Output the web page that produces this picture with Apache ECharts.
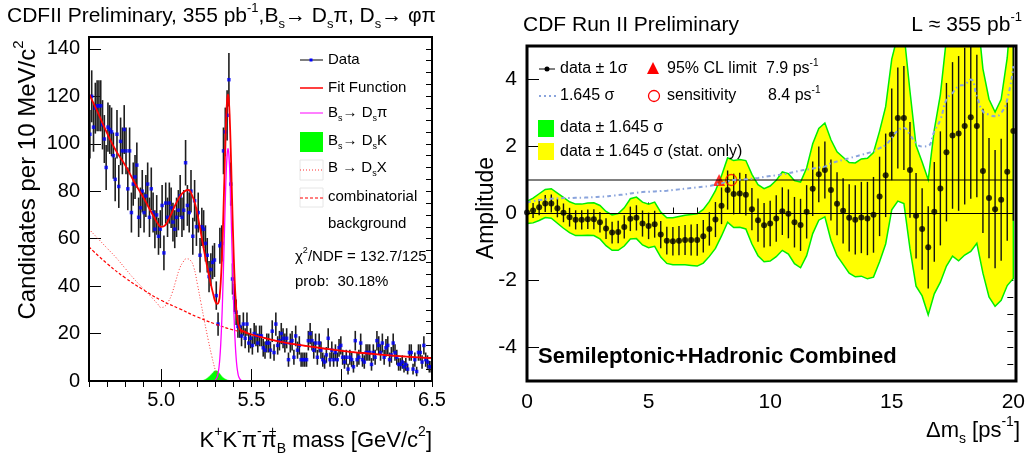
<!DOCTYPE html>
<html>
<head>
<meta charset="utf-8">
<script src="https://cdn.jsdelivr.net/npm/echarts@6/dist/echarts.min.js"></script>
<style>html,body{margin:0;padding:0;background:#fff;}#c{width:1028px;height:464px;}</style>
</head>
<body>
<div id="c"></div>
<script>
// ---------------- Left panel data ----------------
const massBinStart = 4.6;
const massBinWidth = 0.01;
const counts = [
104,120,107,115,116,116,116,108,102,90,
107,106,105,95,85,104,82,101,97,106,
97,81,97,71,83,86,91,69,73,80,
71,78,83,69,81,71,64,70,61,64,
74,54,75,69,75,73,67,64,69,72,
78,69,72,92,74,71,80,61,76,65,
71,53,65,64,58,53,44,47,50,51,
36,24,57,58,97,105,112,127,83,43,
35,29,23,23,19,24,18,24,16,18,
15,20,19,16,19,19,14,13,16,16,
13,21,12,24,15,17,20,18,16,18,
9,16,17,10,19,13,15,9,9,9,
9,17,20,17,13,16,10,16,13,9,
8,11,18,9,13,9,12,9,14,15,
10,8,10,5,10,9,6,17,9,10,
16,9,8,12,12,12,7,12,10,17,
15,12,16,10,14,15,9,11,16,12,
10,7,7,8,6,7,5,12,12,5,
9,4,12,12,8,15,9,8,6,6];
const fitCurve = [[4.60,121],[4.65,113],[4.70,104.5],[4.75,97],[4.80,91],[4.85,84],[4.90,77.5],[4.95,70.5],[4.98,66.5],[5.00,65],[5.02,65.5],[5.05,69.5],[5.08,74.5],[5.11,78.5],[5.13,80],[5.15,80.5],[5.17,78.5],[5.19,74],[5.21,66.5],[5.23,58],[5.25,50],[5.27,42.5],[5.29,36],[5.30,33.5],[5.31,32.5],[5.32,33.7],[5.325,36.8],[5.33,42],[5.335,49.4],[5.34,59.7],[5.345,72.3],[5.35,85.9],[5.355,99.6],[5.36,110.8],[5.365,118.2],[5.37,120.8],[5.375,117.8],[5.38,110],[5.385,98.2],[5.39,84],[5.395,70],[5.40,57],[5.405,46],[5.41,37.6],[5.415,31.4],[5.42,27.2],[5.43,23],[5.44,21.5],[5.46,20.8],[5.50,19.6],[5.60,17.6],[5.70,16],[5.80,14.8],[5.90,13.7],[6.00,12.7],[6.10,11.9],[6.20,11.2],[6.30,10.6],[6.40,10.1],[6.50,9.6]];
const dspiCurve = [[5.29,0.07],[5.30,0.4],[5.31,1.7],[5.315,3.2],[5.32,5.7],[5.325,9.8],[5.33,15.9],[5.335,24.2],[5.34,35],[5.345,48],[5.35,62],[5.355,76],[5.36,87.5],[5.365,95.2],[5.37,98],[5.375,95.2],[5.38,87.5],[5.385,76],[5.39,62],[5.395,48],[5.40,35],[5.405,24.2],[5.41,15.9],[5.415,9.8],[5.42,5.7],[5.425,3.2],[5.43,1.7],[5.44,0.4],[5.45,0.07]];
const dskCurve = [[5.22,0],[5.24,0.5],[5.26,1.5],[5.28,3],[5.29,3.8],[5.30,4.3],[5.31,4.2],[5.32,3.5],[5.33,2.5],[5.34,1.6],[5.36,0.6],[5.38,0.15],[5.39,0]];
const dsxCurve = [[4.60,64],[4.65,60],[4.70,56],[4.75,52],[4.80,47.5],[4.85,43],[4.90,39],[4.95,35],[4.98,32.5],[5.00,31],[5.02,31.5],[5.04,33.5],[5.06,37],[5.08,42],[5.10,47],[5.12,50],[5.14,51.5],[5.16,51],[5.18,48],[5.20,41],[5.22,33],[5.24,25],[5.26,17.5],[5.28,10.5],[5.30,4.5],[5.31,2.5],[5.32,1],[5.33,0.3],[5.34,0]];
const combCurve = [[4.60,56.5],[4.70,49.5],[4.80,43.5],[4.90,38.5],[5.00,34],[5.10,30.5],[5.20,27],[5.30,24],[5.40,21.5],[5.50,19.6],[5.60,17.6],[5.70,16],[5.80,14.8],[5.90,13.7],[6.00,12.7],[6.10,11.9],[6.20,11.2],[6.30,10.6],[6.40,10.1],[6.50,9.6]];
const leftXTicks = [5.0,5.5,6.0,6.5];
const leftYTicks = [0,20,40,60,80,100,120,140];

// ---------------- Right panel data ----------------
const dmStep = 0.25;
const amplitude = [
0.03,0.09,0.19,0.30,0.30,0.16,0.02,-0.11,-0.19,-0.19,
-0.17,-0.17,-0.26,-0.45,-0.57,-0.55,-0.40,-0.16,-0.13,-0.30,
-0.37,-0.32,-0.63,-0.81,-0.83,-0.81,-0.79,-0.79,-0.79,-0.68,
-0.46,-0.18,0.23,0.70,0.58,0.60,0.56,0.13,-0.20,-0.35,
-0.30,-0.15,0.07,-0.01,-0.26,-0.34,0.05,0.74,1.17,1.30,
0.70,0.29,0.08,-0.13,-0.19,-0.12,-0.15,-0.04,0.51,1.14,
2.36,2.85,2.85,1.30,-0.07,-0.46,-1.01,0.05,0.75,1.83,
2.33,2.39,2.61,2.87,2.61,1.27,0.46,0.13,0.41,1.25,
2.46];
const sigma1645 = [
0.33,0.37,0.40,0.42,0.44,0.45,0.46,0.46,0.47,0.47,
0.48,0.49,0.50,0.51,0.53,0.55,0.57,0.60,0.62,0.64,
0.65,0.66,0.67,0.68,0.70,0.72,0.74,0.76,0.78,0.80,
0.82,0.86,0.90,0.96,1.00,1.01,1.02,1.04,1.06,1.09,
1.12,1.14,1.17,1.20,1.24,1.28,1.31,1.34,1.37,1.40,
1.50,1.55,1.60,1.65,1.70,1.75,1.80,1.86,1.95,2.05,
2.25,2.48,2.55,2.35,2.10,2.00,2.02,2.45,2.80,3.40,
3.60,3.80,3.85,4.00,3.50,3.05,2.95,2.90,3.00,3.40,
4.40];
const clLimit = [7.9, 1];
const sensitivity = [8.4, 1];
const rightYTicks = [-4,-2,0,2,4];

// ---------------- derived ----------------
const massPts = counts.map((n,i)=>[massBinStart + massBinWidth*(i+0.5), n, Math.sqrt(n)]);
const dm = amplitude.map((_,i)=>i*dmStep);
const ampPts = amplitude.map((a,i)=>[dm[i], a, sigma1645[i]/1.645]);
const sensLine = sigma1645.map((s,i)=>[dm[i], s]);

const FF = "'Liberation Sans', Arial, Helvetica, sans-serif";

function errRender(color, lw, clamp0){
  return function(params, api){
    const x = api.value(0), y = api.value(1), e = api.value(2);
    let lo = y - e; if (clamp0) lo = Math.max(0, lo);
    const p1 = api.coord([x, lo]), p2 = api.coord([x, y + e]);
    return {type:'line', shape:{x1:p1[0], y1:p1[1], x2:p2[0], y2:p2[1]}, style:{stroke:color, lineWidth:lw}};
  };
}

function richStyles(size, weight){
  const s = Math.round(size*0.62);
  return {
    sub:{fontSize:s, lineHeight:s, verticalAlign:'bottom', fontFamily:FF, fill:'#000', fontWeight:weight||'normal'},
    sup:{fontSize:s, lineHeight:s, verticalAlign:'top', fontFamily:FF, fill:'#000', fontWeight:weight||'normal'},
    supz:{fontSize:s, lineHeight:s, verticalAlign:'top', fontFamily:FF, fill:'#000', width:0}
  };
}
function txt(x, y, text, size, align, extra){
  extra = extra || {};
  return Object.assign({
    type:'text', x:x, y:y, z:120,
    style:{text:text, fontSize:size, fontFamily:FF, fill:'#000', align:align||'left', verticalAlign:'middle',
           lineHeight:Math.round(size*1.4), fontWeight:extra.weight||'normal', rich:richStyles(size, extra.weight)}
  }, extra.el || {});
}
function ln(x1,y1,x2,y2,color,lw,dash){
  return {type:'line', z:120, shape:{x1,y1,x2,y2}, style:{stroke:color, lineWidth:lw, lineDash:dash||null}};
}

const graphics = [
  // frames
  {type:'rect', z:110, shape:{x:89,y:37,width:343,height:344}, style:{fill:'none', stroke:'#000', lineWidth:2}},
  {type:'rect', z:110, shape:{x:527,y:46,width:489,height:335}, style:{fill:'none', stroke:'#000', lineWidth:3}},
  // titles
  txt(7, 16, 'CDFII Preliminary, 355 pb{sup|-1},B{sub|s}→ D{sub|s}π, D{sub|s}→ φπ', 21),
  txt(523, 25, 'CDF Run II Preliminary', 21),
  txt(1022, 25, 'L ≈ 355 pb{sup|-1}', 21, 'right'),
  // axis titles
  txt(28, 180, 'Candidates per 10 MeV/c{sup|2}', 24, 'center', {el:{rotation:Math.PI/2}}),
  txt(487, 208, 'Amplitude', 23, 'center', {el:{rotation:Math.PI/2}}),
  txt(432, 441, 'K{sup|+}K{sup|-}π{sup|-}π{supz|+}{sub|B} mass [GeV/c{sup|2}]', 22, 'right'),
  txt(1020, 431, 'Δm{sub|s} [ps{sup|-1}]', 22, 'right'),
  txt(538, 357, 'Semileptonic+Hadronic Combined', 22, 'left', {weight:'bold'}),
  // left legend
  ln(300,60,323,60,'#000',1),
  {type:'rect', z:121, shape:{x:309.5,y:58.5,width:3,height:3}, style:{fill:'#0000ff'}},
  txt(328, 60, 'Data', 15),
  ln(300,88,323,88,'#ff0000',1.5),
  txt(328, 88, 'Fit Function', 15),
  ln(300,113,323,113,'#ff00ff',1),
  txt(328, 113, 'B{sub|s}→ D{sub|s}π', 15),
  {type:'rect', z:120, shape:{x:300,y:132,width:23,height:20}, style:{fill:'#00ff00'}},
  txt(328, 141, 'B{sub|s}→ D{sub|s}K', 15),
  {type:'rect', z:120, shape:{x:300,y:160,width:23,height:20}, style:{fill:'none', stroke:'#e6e6e6', lineWidth:1}},
  ln(300,170,323,170,'#ff3030',1,[1,2]),
  txt(328, 168, 'B → D{sub|s}X', 15),
  {type:'rect', z:120, shape:{x:300,y:188,width:23,height:19}, style:{fill:'none', stroke:'#e6e6e6', lineWidth:1}},
  ln(300,198,323,198,'#ff0000',1,[3,2]),
  txt(328, 197, 'combinatorial', 15),
  txt(328, 224, 'background', 15),
  txt(295, 257, 'χ{sup|2}/NDF = 132.7/125', 15),
  txt(295, 282, 'prob:  30.18%', 15),
  // right legend
  ln(539,69,555,69,'#000',1),
  {type:'circle', z:121, shape:{cx:547,cy:69,r:2.5}, style:{fill:'#000'}},
  txt(560, 69, 'data ± 1σ', 16),
  {type:'polygon', z:121, shape:{points:[[653,62],[647,74],[659,74]]}, style:{fill:'#ff0000'}},
  txt(667, 69, '95% CL limit', 16),
  txt(766, 69, '7.9 ps{sup|-1}', 16),
  ln(539,96,557,96,'#8aa4dc',2,[2,3]),
  txt(560, 96, '1.645 σ', 16),
  {type:'circle', z:121, shape:{cx:654,cy:96,r:5.5}, style:{fill:'none', stroke:'#ff0000', lineWidth:1.3}},
  txt(667, 96, 'sensitivity', 16),
  txt(768, 96, '8.4 ps{sup|-1}', 16),
  {type:'rect', z:120, shape:{x:538,y:120,width:16,height:17}, style:{fill:'#00ff00'}},
  txt(560, 128, 'data ± 1.645 σ', 16),
  {type:'rect', z:120, shape:{x:538,y:143,width:16,height:17}, style:{fill:'#ffff00'}},
  txt(560, 152, 'data ± 1.645 σ (stat. only)', 16)
];

const tickLab = {color:'#000', fontSize:20, fontFamily:FF};
const option = {
  animation:false,
  backgroundColor:'#fff',
  grid:[
    {left:89, top:37, width:343, height:344},
    {left:527, top:46, width:489, height:335}
  ],
  xAxis:[
    {gridIndex:0, type:'value', min:4.6, max:6.5, axisLine:{show:false}, splitLine:{show:false},
     axisTick:{inside:true, length:12, customValues:leftXTicks, lineStyle:{color:'#000', width:1}},
     axisLabel:Object.assign({customValues:leftXTicks, margin:9, formatter:v=>Number(v).toFixed(1)}, tickLab)},
    {gridIndex:0, type:'value', min:4.6, max:6.5, interval:0.1, axisLine:{show:false}, splitLine:{show:false},
     axisTick:{inside:true, length:6, lineStyle:{color:'#000', width:1}}, axisLabel:{show:false}},
    {gridIndex:1, type:'value', min:0, max:20, interval:5, axisLine:{show:false}, splitLine:{show:false},
     axisTick:{inside:true, length:11, lineStyle:{color:'#000', width:1}},
     minorTick:{show:true, splitNumber:5, length:6, lineStyle:{color:'#000', width:1}},
     axisLabel:Object.assign({margin:11}, tickLab, {fontSize:21})}
  ],
  yAxis:[
    {gridIndex:0, type:'value', min:0, max:145, axisLine:{show:false}, splitLine:{show:false},
     axisTick:{inside:true, length:12, customValues:leftYTicks, lineStyle:{color:'#000', width:1}},
     axisLabel:Object.assign({customValues:leftYTicks, margin:9}, tickLab)},
    {gridIndex:0, type:'value', min:0, max:145, interval:5, axisLine:{show:false}, splitLine:{show:false},
     axisTick:{inside:true, length:6, lineStyle:{color:'#000', width:1}}, axisLabel:{show:false}},
    {gridIndex:1, type:'value', min:-5, max:5, axisLine:{show:false}, splitLine:{show:false},
     axisTick:{inside:true, length:12, customValues:rightYTicks, lineStyle:{color:'#000', width:1}},
     axisLabel:Object.assign({customValues:rightYTicks, margin:10}, tickLab, {fontSize:21})},
    {gridIndex:1, type:'value', min:-5, max:5, interval:0.5, axisLine:{show:false}, splitLine:{show:false},
     axisTick:{inside:true, length:6, lineStyle:{color:'#000', width:1}}, axisLabel:{show:false}}
  ],
  series:[
    // ---- left ----
    {name:'Bs→DsK', type:'line', xAxisIndex:0, yAxisIndex:0, data:dskCurve, smooth:true, showSymbol:false, symbol:'none',
     lineStyle:{width:0.5, color:'#00ff00'}, areaStyle:{color:'#00ff00', opacity:1}},
    {name:'errors', type:'custom', xAxisIndex:0, yAxisIndex:0, data:massPts, encode:{x:0,y:1},
     renderItem:errRender('#1e1e1e', 1.6, true), clip:true},
    {name:'combinatorial', type:'line', xAxisIndex:0, yAxisIndex:0, data:combCurve, smooth:true, symbol:'none',
     lineStyle:{color:'#ff0000', width:1.2, type:[3,2]}},
    {name:'B→DsX', type:'line', xAxisIndex:0, yAxisIndex:0, data:dsxCurve, smooth:true, symbol:'none',
     lineStyle:{color:'#ff3030', width:1, type:[1,2]}},
    {name:'Data', type:'scatter', xAxisIndex:0, yAxisIndex:0, data:massPts.map(p=>[p[0],p[1]]), symbol:'rect', symbolSize:3.5,
     itemStyle:{color:'#0000ff'}},
    {name:'Bs→Dsπ', type:'line', xAxisIndex:0, yAxisIndex:0, data:dspiCurve, smooth:true, symbol:'none',
     lineStyle:{color:'#ff00ff', width:1.3}},
    {name:'Fit Function', type:'line', xAxisIndex:0, yAxisIndex:0, data:fitCurve, smooth:true, symbol:'none',
     lineStyle:{color:'#ff0000', width:1.8}},
    // ---- right ----
    {name:'band', type:'custom', xAxisIndex:2, yAxisIndex:2, data:[[10,0]], encode:{x:0,y:1}, clip:true,
     renderItem:function(params, api){
       const up = dm.map((x,i)=>api.coord([x, amplitude[i]+sigma1645[i]]));
       const lo = dm.map((x,i)=>api.coord([x, amplitude[i]-sigma1645[i]])).reverse();
       return {type:'polygon', shape:{points:up.concat(lo)}, style:{fill:'#ffff00', stroke:'#00ee00', lineWidth:1.5}};
     }},
    {name:'zero', type:'line', xAxisIndex:2, yAxisIndex:2, data:[[0,0],[20,0]], symbol:'none', lineStyle:{color:'#000', width:1}},
    {name:'one', type:'line', xAxisIndex:2, yAxisIndex:2, data:[[0,1],[20,1]], symbol:'none', lineStyle:{color:'#000', width:1}},
    {name:'1.645σ', type:'line', xAxisIndex:2, yAxisIndex:2, data:sensLine, symbol:'none', smooth:true,
     lineStyle:{color:'#8aa4dc', width:2, type:[4,3,1.5,3]}},
    {name:'amp errors', type:'custom', xAxisIndex:2, yAxisIndex:2, data:ampPts, encode:{x:0,y:1},
     renderItem:errRender('#111', 1.4, false), clip:true},
    {name:'amplitude', type:'scatter', xAxisIndex:2, yAxisIndex:2, data:ampPts.map(p=>[p[0],p[1]]), symbol:'circle', symbolSize:6,
     itemStyle:{color:'#000'}},
    {name:'95% CL limit', type:'scatter', xAxisIndex:2, yAxisIndex:2, data:[clLimit], symbol:'triangle', symbolSize:12,
     itemStyle:{color:'#ff0000'}},
    {name:'sensitivity', type:'scatter', xAxisIndex:2, yAxisIndex:2, data:[sensitivity], symbol:'circle', symbolSize:11,
     itemStyle:{color:'rgba(0,0,0,0)', borderColor:'#ff0000', borderWidth:1.3}}
  ],
  graphic:graphics
};
const chart = echarts.init(document.getElementById('c'), null, {renderer:'canvas'});
chart.setOption(option);
</script>
</body>
</html>
